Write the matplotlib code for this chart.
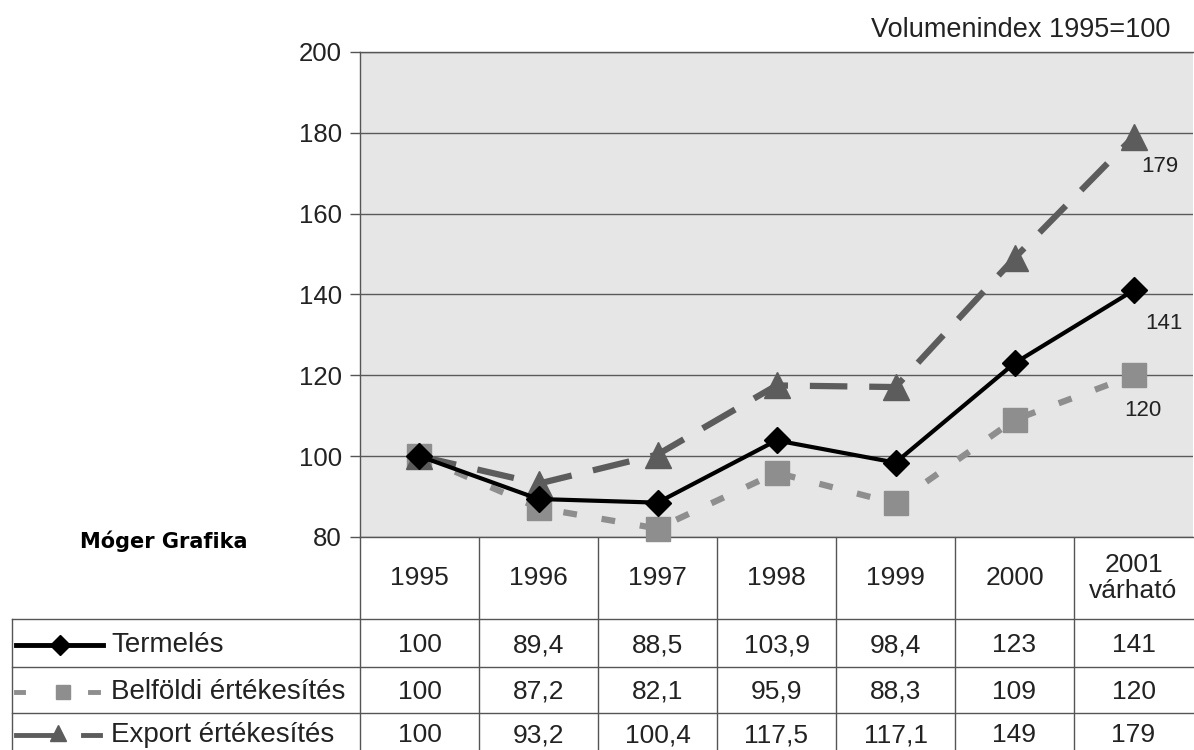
import matplotlib.pyplot as plt
from matplotlib.lines import Line2D

plt.rcParams['font.family'] = ['Liberation Sans', 'DejaVu Sans']

years = ['1995', '1996', '1997', '1998', '1999', '2000', '2001\nvárható']
termeles = [100, 89.4, 88.5, 103.9, 98.4, 123, 141]
belfoldi = [100, 87.2, 82.1, 95.9, 88.3, 109, 120]
export = [100, 93.2, 100.4, 117.5, 117.1, 149, 179]
series_names = ['Termelés', 'Belföldi értékesítés', 'Export értékesítés']
y_ticks = [80, 100, 120, 140, 160, 180, 200]

W, H = 1194, 750
left, right, top, bottom = 360, 1193, 52, 537
TXT = '#222222'

fig = plt.figure(figsize=(W / 100, H / 100), dpi=100)
fig.patch.set_facecolor('white')

ax = fig.add_axes([left / W, 1 - bottom / H, (right - left) / W, (bottom - top) / H])
ax.set_facecolor('#e6e6e6')
ax.set_xlim(-0.5, len(years) - 0.5)
ax.set_ylim(80, 200)
ax.set_yticks(y_ticks)
ax.set_yticklabels([str(v) for v in y_ticks], fontsize=18.5, color=TXT)
ax.set_xticks([])
ax.tick_params(axis='y', length=7, width=1, color='#555555', pad=6)
ax.grid(axis='y', color='#5a5a5a', lw=1.0)
ax.set_axisbelow(True)
ax.spines['right'].set_visible(False)
for side in ['left', 'top', 'bottom']:
    ax.spines[side].set_color('#555555')
    ax.spines[side].set_linewidth(1.0)

x = list(range(len(years)))
styles = [
    dict(color='black', lw=3, ls='-', marker='D', ms=13, zorder=5),
    dict(color='#8e8e8e', lw=4.5, ls=(0, (2.2, 4)), marker='s', ms=17, zorder=3),
    dict(color='#5c5c5c', lw=4.5, ls=(0, (6, 3.5)), marker='^', ms=19, zorder=4),
]
values = [termeles, belfoldi, export]
for vals, st in zip(values, styles):
    ax.plot(x, vals, clip_on=False, **st)

# end-of-series value labels
label_offsets = [(22, -24), (7, -25), (19, -21)]
for vals, off in zip(values, label_offsets):
    ax.annotate(f'{vals[-1]:g}', (x[-1], vals[-1]), xytext=off, textcoords='offset points',
                ha='center', va='center', fontsize=16, color=TXT)

fig.text(1170 / W, 1 - 30 / H, 'Volumenindex 1995=100', ha='right', va='center',
         fontsize=19.5, color=TXT)
fig.text(164 / W, 1 - 541 / H, 'Móger Grafika', ha='center', va='center',
         fontsize=15, fontweight='heavy', family='DejaVu Sans', color='black')

# data table underneath the chart, drawn in pixel space
tab = fig.add_axes([0, 0, 1, 1], zorder=-1)
tab.set_xlim(0, W)
tab.set_ylim(H, 0)
tab.axis('off')
tab.patch.set_alpha(0)

col_w = (right - left) / len(years)
row_lines = [619, 667, 713]
row_centers = [645, 692, 735]
line_kw = dict(color='#555555', lw=1.0)

tab.plot([left, left], [bottom, H], **line_kw)
for i in range(1, len(years)):
    xc = left + i * col_w
    tab.plot([xc, xc], [bottom, H], **line_kw)
tab.plot([12, 12], [row_lines[0], H], **line_kw)
for yl in row_lines:
    tab.plot([12, W], [yl, yl], **line_kw)

for i, yr in enumerate(years):
    tab.text(left + (i + 0.5) * col_w, 578, yr, ha='center', va='center',
             fontsize=19, color=TXT, linespacing=1.15)

for r, (vals, name) in enumerate(zip(values, series_names)):
    yc = row_centers[r]
    tab.text(111, yc, name, ha='left', va='center', fontsize=20, color=TXT)
    for i, v in enumerate(vals):
        txt = f'{v:g}'.replace('.', ',')
        tab.text(left + (i + 0.5) * col_w, yc, txt, ha='center', va='center',
                 fontsize=19, color=TXT)

# legend keys in the table rows
st = styles[0]
tab.add_line(Line2D([16, 103], [row_centers[0]] * 2, color=st['color'], lw=3.5))
tab.plot(60, row_centers[0], marker='D', ms=10, color='black')
st = styles[1]
tab.add_line(Line2D([16, 23], [row_centers[1]] * 2, color=st['color'], lw=3.5))
tab.add_line(Line2D([90, 98], [row_centers[1]] * 2, color=st['color'], lw=3.5))
tab.plot(63, row_centers[1], marker='s', ms=10, color=st['color'])
st = styles[2]
tab.add_line(Line2D([16, 54], [row_centers[2]] * 2, color=st['color'], lw=3.5))
tab.add_line(Line2D([83, 100], [row_centers[2]] * 2, color=st['color'], lw=3.5))
tab.plot(58, row_centers[2] - 2, marker='^', ms=11, color=st['color'])

fig.savefig('out.png', dpi=100)
